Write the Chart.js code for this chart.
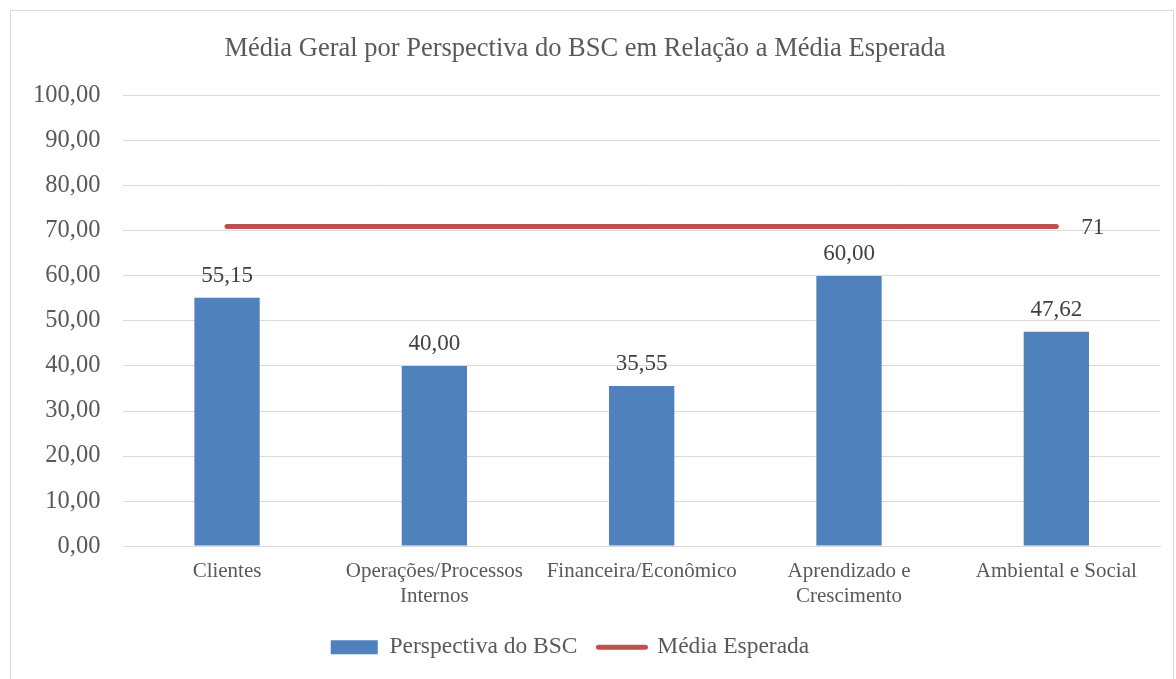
<!DOCTYPE html>
<html>
<head>
<meta charset="utf-8">
<script src="https://cdn.jsdelivr.net/npm/chart.js@4/dist/chart.umd.min.js"></script>
<style>
  body { margin: 0; background: #fff; }
  #wrap { position: relative; width: 1176px; height: 679px; }
  #frame { position: absolute; left: 10px; top: 10px; width: 1162px; height: 680px; border: 1px solid #d9d9d9; pointer-events: none; }
</style>
</head>
<body>
<div id="wrap">
  <canvas id="Chart_bsc" width="1176" height="679"></canvas>
  <div id="frame"></div>
</div>
<script>
  //categorias e valores
  var categorias = ["Clientes", ["Operações/Processos", "Internos"], "Financeira/Econômico", ["Aprendizado e", "Crescimento"], "Ambiental e Social"];
  var perspectiva = [55.15, 40.00, 35.55, 60.00, 47.62];
  var media_esperada = [71, 71, 71, 71, 71];
  var ticks_y = [0, 10, 20, 30, 40, 50, 60, 70, 80, 90, 100];

  var FONTE = "Liberation Serif";
  function virgula(v) { return Number(v).toFixed(2).replace(".", ","); }

  //rótulos de dados
  const rotulos = {
    id: "rotulos",
    afterLayout(chart) {
      // legenda um pouco à esquerda, como no original
      chart.legend.left -= 15;
      chart.legend.right -= 15;
    },
    afterDatasetsDraw(chart) {
      const ctx = chart.ctx;
      ctx.save();
      ctx.font = "23px " + FONTE;
      ctx.fillStyle = "#404040";
      ctx.textBaseline = "alphabetic";
      const barras = chart.getDatasetMeta(0);
      barras.data.forEach(function(el, i) {
        ctx.textAlign = "center";
        ctx.fillText(virgula(perspectiva[i]), el.x, el.y - 16);
      });
      const linha = chart.getDatasetMeta(1);
      const ult = linha.data[linha.data.length - 1];
      ctx.textAlign = "left";
      ctx.fillText(String(media_esperada[media_esperada.length - 1]), ult.x + 25, ult.y + 8);
      ctx.restore();
    }
  };

  function desenhar() {
    Chart.defaults.font.family = FONTE;
    const ctx1 = document.getElementById("Chart_bsc").getContext("2d");
    Chart_bsc = new Chart(ctx1, {
      type: "bar",
      data: {
        labels: categorias,
        datasets: [
          {
            label: "Perspectiva do BSC",
            data: perspectiva,
            backgroundColor: "#4F81BD",
            barPercentage: 0.315,
            categoryPercentage: 1,
            order: 2,
          },
          {
            type: "line",
            label: "Média Esperada",
            data: media_esperada,
            borderColor: "#C0504D",
            backgroundColor: "#C0504D",
            borderWidth: 5,
            borderCapStyle: "round",
            pointRadius: 0,
            order: 1,
          },
        ],
      },
      options: {
        responsive: false,
        animation: false,
        layout: { padding: { left: 10, right: 16, top: 0, bottom: 10 } },
        plugins: {
          title: {
            display: true,
            text: "Média Geral por Perspectiva do BSC em Relação a Média Esperada",
            color: "#595959",
            font: { family: FONTE, size: 26.5, weight: "normal" },
            padding: { top: 33, bottom: 31 },
          },
          legend: {
            position: "bottom",
            labels: {
              color: "#595959",
              font: { family: FONTE, size: 23.5 },
              usePointStyle: true,
              pointStyleWidth: 47,
              boxHeight: 14,
              padding: 21,
              generateLabels(chart) {
                const items = Chart.defaults.plugins.legend.labels.generateLabels(chart);
                items.sort(function(a, b) { return a.datasetIndex - b.datasetIndex; });
                items[0].pointStyle = "rect";
                items[0].lineWidth = 0;
                items[1].pointStyle = "line";
                items[1].lineWidth = 5;
                items[1].lineCap = "round";
                items[1].strokeStyle = "#C0504D";
                return items;
              },
            },
          },
          tooltip: { enabled: false },
        },
        scales: {
          x: {
            grid: { display: false },
            border: { color: "#d9d9d9", width: 1 },
            ticks: {
              color: "#595959",
              font: { family: FONTE, size: 21 },
              padding: 5,
              maxRotation: 0,
              autoSkip: false,
            },
          },
          y: {
            min: 0,
            max: 100,
            afterBuildTicks(axis) { axis.ticks = ticks_y.map(function(v) { return { value: v }; }); },
            grid: { color: "#d9d9d9", drawTicks: false },
            border: { display: false },
            ticks: {
              color: "#595959",
              font: { family: FONTE, size: 24.5 },
              padding: 23,
              callback: function(v) { return virgula(v); },
            },
          },
        },
      },
      plugins: [rotulos],
    });
  }

  if (document.fonts && document.fonts.load) {
    document.fonts.load("22px '" + FONTE + "'").then(desenhar, desenhar);
  } else {
    desenhar();
  }
</script>
</body>
</html>
